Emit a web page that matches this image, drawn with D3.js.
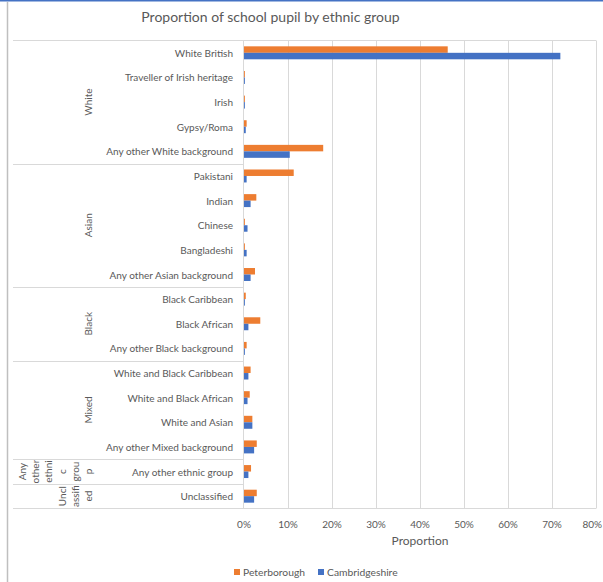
<!DOCTYPE html>
<html><head><meta charset="utf-8">
<script src="https://cdn.jsdelivr.net/npm/d3@7"></script>
<style>
body{margin:0;background:#fff;}
text{font-family:Lato,"Open Sans",sans-serif;fill:#595959;}
</style></head>
<body><svg id="c" width="603" height="582"></svg>
<script>
const title = "Proportion of school pupil by ethnic group";
const categories = ["White British","Traveller of Irish heritage","Irish","Gypsy/Roma","Any other White background",
 "Pakistani","Indian","Chinese","Bangladeshi","Any other Asian background",
 "Black Caribbean","Black African","Any other Black background",
 "White and Black Caribbean","White and Black African","White and Asian","Any other Mixed background",
 "Any other ethnic group","Unclassified"];
const groups = ["White","Asian","Black","Mixed","Any other ethnic group","Unclassified"];
const groupSizes = [5,5,3,4,1,1];
const groupLines = [["White"],["Asian"],["Black"],["Mixed"],["Any","other","ethni","c","grou","p"],["Uncl","assifi","ed"]];
const seriesNames = ["Peterborough","Cambridgeshire"];
const peterborough = [0.463,0.002,0.002,0.006,0.180,0.113,0.028,0.002,0.002,0.025,0.004,0.037,0.006,0.015,0.013,0.019,0.029,0.016,0.029];
const cambridgeshire = [0.719,0.002,0.002,0.004,0.104,0.006,0.015,0.008,0.006,0.015,0.002,0.010,0.002,0.010,0.008,0.019,0.023,0.010,0.023];
const xTicks = [0,0.1,0.2,0.3,0.4,0.5,0.6,0.7,0.8];
const colors = ["#ED7D31","#4472C4"];

const svg = d3.select("#c");
// frame
svg.append("line").attr("x1",0).attr("x2",603).attr("y1",0.5).attr("y2",0.5).attr("stroke","#4472C4").attr("stroke-width",2);
svg.append("line").attr("x1",7.5).attr("x2",7.5).attr("y1",2).attr("y2",582).attr("stroke","#BFBFBF").attr("stroke-width",1.5);

const x = d3.scaleLinear().domain([0,0.8]).range([244,596]);
const y = d3.scaleBand().domain(categories).range([40.5,508.5]).padding(0);
const ys = d3.scaleBand().domain(seriesNames).range([0,y.bandwidth()]).paddingInner(0).paddingOuter(0.9);

// gridlines
svg.append("g").selectAll("line").data(xTicks.slice(1)).join("line")
 .attr("x1",d=>Math.round(x(d))+0.5).attr("x2",d=>Math.round(x(d))+0.5)
 .attr("y1",y.range()[0]).attr("y2",y.range()[1]).attr("stroke","#D9D9D9").attr("stroke-width",1);
svg.append("line").attr("x1",13).attr("x2",596).attr("y1",40.5).attr("y2",40.5).attr("stroke","#D9D9D9");

// bars
const rows = categories.map((c,i)=>({c,v:[peterborough[i],cambridgeshire[i]]}));
const g = svg.append("g");
rows.forEach(r=>{
  seriesNames.forEach((s,j)=>{
    g.append("rect").attr("x",x(0)).attr("y",y(r.c)+ys(s)).attr("width",Math.max(0,x(r.v[j])-x(0)))
     .attr("height",ys.bandwidth()).attr("fill",colors[j]);
  });
});

// axis lines
svg.append("line").attr("x1",243.5).attr("x2",243.5).attr("y1",40.5).attr("y2",508.5).attr("stroke","#D9D9D9");
svg.append("line").attr("x1",13).attr("x2",596).attr("y1",508.5).attr("y2",508.5).attr("stroke","#D9D9D9");

// group separators
let idx=0; const bounds=[0];
groupSizes.forEach(n=>{idx+=n;bounds.push(idx);});
bounds.slice(1,-1).forEach(b=>{
  const yy = y.range()[0] + b*y.step();
  svg.append("line").attr("x1",13).attr("x2",243.5).attr("y1",Math.round(yy)+0.5).attr("y2",Math.round(yy)+0.5).attr("stroke","#D9D9D9");
});

// category labels
svg.append("g").selectAll("text").data(categories).join("text")
 .attr("x",233).attr("y",d=>y(d)+y.bandwidth()/2).attr("text-anchor","end").attr("dominant-baseline","central")
 .attr("font-size",10).text(d=>d);

// group labels
const defs = svg.append("defs");
groups.forEach((gname,i)=>{
  const y0 = y.range()[0]+bounds[i]*y.step(), y1 = y.range()[0]+bounds[i+1]*y.step();
  const cid = "clip"+i;
  defs.append("clipPath").attr("id",cid).append("rect").attr("x",13).attr("y",y0+1).attr("width",100).attr("height",y1-y0-1);
  const lines = groupLines[i];
  const gg = svg.append("g").attr("clip-path",`url(#${cid})`);
  lines.forEach((ln,k)=>{
    const xx = 88 - (lines.length-1-k)*13.2;
    const yc = (y0+y1)/2;
    gg.append("text").attr("transform",`translate(${xx},${yc}) rotate(-90)`)
      .attr("text-anchor","middle").attr("dominant-baseline","central").attr("font-size",10).text(ln);
  });
});

// x tick labels
svg.append("g").selectAll("text").data(xTicks).join("text")
 .attr("x",(d,i)=>i===xTicks.length-1?602:x(d)).attr("y",524)
 .attr("text-anchor",(d,i)=>i===xTicks.length-1?"end":"middle").attr("dominant-baseline","central")
 .attr("font-size",10).text(d=>d3.format(".0%")(d));
svg.append("text").attr("x",420).attr("y",540).attr("text-anchor","middle").attr("dominant-baseline","central")
 .attr("font-size",12).text("Proportion");

// title
svg.append("text").attr("x",270.5).attr("y",16).attr("text-anchor","middle").attr("dominant-baseline","central")
 .attr("font-size",14).text(title);

// legend
const lg = svg.append("g");
const legX=[234,318];
seriesNames.forEach((s,j)=>{
  lg.append("rect").attr("x",legX[j]).attr("y",569).attr("width",6).attr("height",6).attr("fill",colors[j]);
  lg.append("text").attr("x",legX[j]+9).attr("y",572).attr("dominant-baseline","central").attr("font-size",10.3).text(s);
});
</script></body></html>
